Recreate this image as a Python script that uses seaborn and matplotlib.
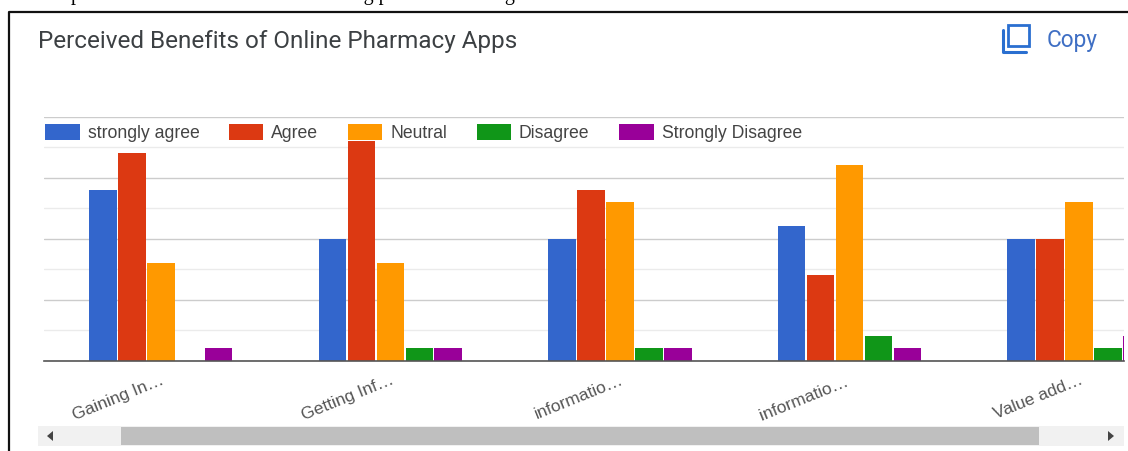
import matplotlib
matplotlib.use("Agg")
import matplotlib.pyplot as plt
from matplotlib.patches import Rectangle, Polygon
from matplotlib.lines import Line2D
import pandas as pd
import seaborn as sns

title = "Perceived Benefits of Online Pharmacy Apps"
caption = "perceived benefits of the online using pharmacies a big"
categories = ["Gaining In\u2026", "Getting Inf\u2026", "informatio\u2026", "informatio\u2026 ", "Value add\u2026"]
strongly_agree = [14, 10, 10, 11, 10]
agree = [17, 18, 14, 7, 10]
neutral = [8, 8, 13, 16, 13]
disagree = [0, 1, 1, 2, 1]
strongly_disagree = [1, 1, 1, 1, 2]
series_names = ["strongly agree", "Agree", "Neutral", "Disagree", "Strongly Disagree"]
series_values = [strongly_agree, agree, neutral, disagree, strongly_disagree]
colors = ["#3366cc", "#dc3912", "#ff9900", "#109618", "#990099"]

W, H = 1128, 452
sns.set_theme(style="white")
plt.rcParams["font.family"] = ["Liberation Sans", "DejaVu Sans"]

df = pd.DataFrame(
    [(c, s, v) for s, vals in zip(series_names, series_values) for c, v in zip(categories, vals)],
    columns=["category", "series", "value"],
)

fig = plt.figure(figsize=(W / 100, H / 100), dpi=100, facecolor="white")


def fx(x):
    return x / W


def fy(y):
    return 1 - y / H


ax = fig.add_axes([fx(44), fy(361.5), fx(1124) - fx(44), fy(117.5) - fy(361.5)])
sns.barplot(data=df, x="category", y="value", hue="series", hue_order=series_names,
            palette=colors, order=categories, width=0.63, gap=0.05, saturation=1,
            legend=False, ax=ax, linewidth=0)
ax.set_xlim(-0.509, 4.196)
ax.set_ylim(0, 20)
ax.set_xlabel("")
ax.set_ylabel("")
ax.set_yticks([0, 5, 10, 15, 20])
ax.set_yticks([2.5, 7.5, 12.5, 17.5], minor=True)
ax.set_yticklabels([])
ax.tick_params(axis="both", which="both", length=0)
ax.grid(False)
ax.set_axisbelow(True)
ax.grid(axis="y", which="major", color="#cccccc", linewidth=1)
ax.grid(axis="y", which="minor", color="#ebebeb", linewidth=1)
for s in ["top", "left", "right"]:
    ax.spines[s].set_visible(False)
ax.spines["bottom"].set_color("#555555")
ax.spines["bottom"].set_linewidth(1.2)
ax.set_xticks(range(len(categories)))
ax.set_xticklabels(categories, rotation=22, ha="right", rotation_mode="anchor",
                   fontsize=12.6, color="#555555")
ax.tick_params(axis="x", pad=8)

# caption clipped at the very top of the page
fig.text(fx(71), fy(0), caption,
         fontsize=14.5, family="Liberation Serif", color="black", va="baseline", ha="left")

# legend strip
leg_y = 133
for (x0, x1, tx), name, c in zip(
    [(45, 80, 88), (229, 263, 271), (348, 382, 390), (477, 511, 519), (619, 654, 662)],
    series_names, colors,
):
    fig.patches.append(Rectangle((fx(x0), fy(leg_y + 8)), fx(x1) - fx(x0), 16 / H,
                                 transform=fig.transFigure, facecolor=c, edgecolor="none", zorder=5))
    fig.text(fx(tx), fy(leg_y + 5), name, fontsize=12.7, color="#444444", va="baseline", ha="left", zorder=5)

# title and copy control
fig.text(fx(38), fy(48), title, fontsize=17.5, family="Roboto", color="#3c4043", va="baseline", ha="left")
fig.text(fx(1047), fy(47), "Copy", fontsize=16.3, family="Roboto", color="#3f6fc4", va="baseline", ha="left")
blue = "#2a6fd0"
fig.patches.append(Rectangle((fx(1008), fy(47)), 21 / W, 21 / H, transform=fig.transFigure,
                             facecolor="white", edgecolor=blue, linewidth=2, zorder=5))
fig.lines.append(Line2D([fx(1003), fx(1003), fx(1026)], [fy(31), fy(53), fy(53)],
                        transform=fig.transFigure, color=blue, linewidth=2.2, zorder=5))

# scroll bar
fig.patches.append(Rectangle((fx(38), fy(447)), 1086 / W, 20 / H, transform=fig.transFigure,
                             facecolor="#f1f1f1", edgecolor="none"))
fig.patches.append(Rectangle((fx(121), fy(446)), 918 / W, 18 / H, transform=fig.transFigure,
                             facecolor="#bfbfbf", edgecolor="none", zorder=3))
fig.patches.append(Polygon([(fx(47), fy(437)), (fx(53), fy(432)), (fx(53), fy(442))],
                           transform=fig.transFigure, facecolor="#444444", edgecolor="none", zorder=3))
fig.patches.append(Polygon([(fx(1114), fy(437)), (fx(1108), fy(432)), (fx(1108), fy(442))],
                           transform=fig.transFigure, facecolor="#444444", edgecolor="none", zorder=3))

# page frame
fig.lines.append(Line2D([fx(8.5), fx(8.5), fx(1128)], [fy(452), fy(12.5), fy(12.5)],
                        transform=fig.transFigure, color="#111111", linewidth=1.6, zorder=6))

fig.savefig("out.png", dpi=100)
